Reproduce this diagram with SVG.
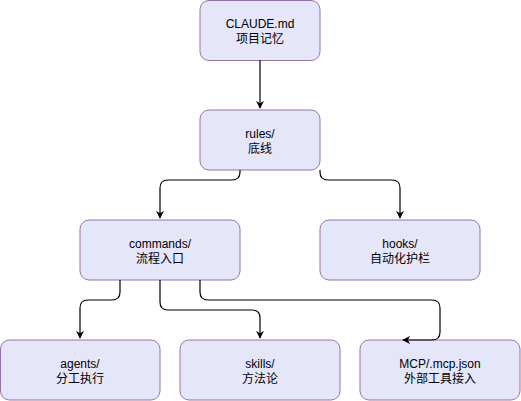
<svg xmlns="http://www.w3.org/2000/svg" width="521" height="401" viewBox="0 0 521 401">
<style>
.n rect{fill:#e6e6fa;stroke:#9673a6;stroke-width:1}
.n text{font-family:"Liberation Sans","Noto Sans CJK SC",sans-serif;font-size:12px;fill:#000;text-anchor:middle}
.e path{fill:none;stroke:#000;stroke-width:1.2}
</style>
<defs>
<marker id="a" viewBox="0 0 10 10" refX="9" refY="5" markerWidth="8" markerHeight="8" markerUnits="userSpaceOnUse" orient="auto">
<path d="M0,0 L10,5 L0,10 L3,5 Z" fill="#000"/>
</marker>
</defs>
<g id="claude" class="n"><rect x="200" y="0.5" width="120" height="60" rx="9"/><text x="260" y="28">CLAUDE.md</text><text x="260" y="43">项目记忆</text></g>
<g id="rules" class="n"><rect x="200" y="110" width="120" height="60" rx="9"/><text x="260" y="137.5">rules/</text><text x="260" y="152.5">底线</text></g>
<g id="commands" class="n"><rect x="80" y="220" width="160" height="60" rx="9"/><text x="160" y="247.5">commands/</text><text x="160" y="262.5">流程入口</text></g>
<g id="hooks" class="n"><rect x="320" y="220" width="160" height="60" rx="9"/><text x="400" y="247.5">hooks/</text><text x="400" y="262.5">自动化护栏</text></g>
<g id="agents" class="n"><rect x="0.5" y="340" width="159.5" height="60" rx="9"/><text x="80" y="367.5">agents/</text><text x="80" y="382.5">分工执行</text></g>
<g id="skills" class="n"><rect x="180" y="340" width="160" height="60" rx="9"/><text x="260" y="367.5">skills/</text><text x="260" y="382.5">方法论</text></g>
<g id="mcp" class="n"><rect x="360" y="340" width="160" height="60" rx="9"/><text x="440" y="367.5">MCP/.mcp.json</text><text x="440" y="382.5">外部工具接入</text></g>
<g class="e">
<path d="M260,60 L260,108" marker-end="url(#a)"/>
<path d="M240,170 L240,172 Q240,180 232,180 L168,180 Q160,180 160,188 L160,218" marker-end="url(#a)"/>
<path d="M320,170 L320,172 Q320,180 328,180 L392,180 Q400,180 400,188 L400,218" marker-end="url(#a)"/>
<path d="M120,280 L120,292 Q120,300 112,300 L88,300 Q80,300 80,308 L80,338" marker-end="url(#a)"/>
<path d="M160,280 L160,302 Q160,310 168,310 L252,310 Q260,310 260,318 L260,338" marker-end="url(#a)"/>
<path d="M200,280 L200,292 Q200,300 208,300 L432,300 Q440,300 440,308 L440,332 Q440,340 432,340 L403,340" marker-end="url(#a)"/>
</g>
</svg>
